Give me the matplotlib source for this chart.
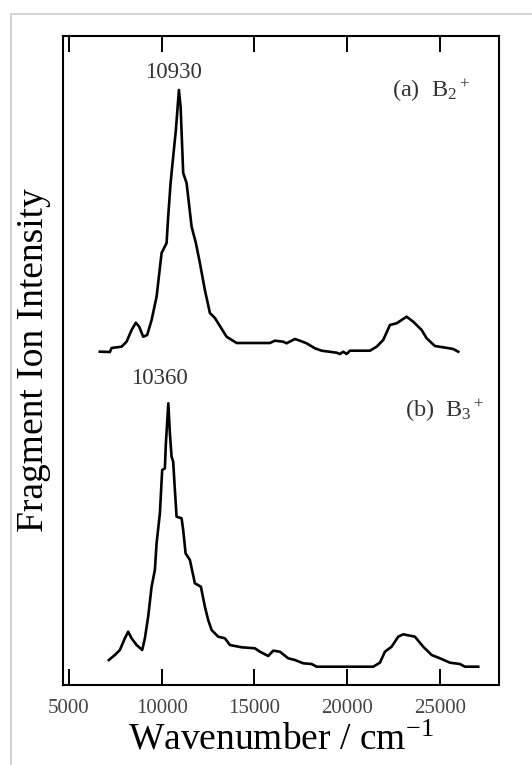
import matplotlib
matplotlib.use("Agg")
import matplotlib.pyplot as plt
from matplotlib.lines import Line2D
import numpy as np

plt.rcParams['font.family'] = ['Liberation Serif', 'DejaVu Serif']
plt.rcParams['mathtext.fontset'] = 'custom'
plt.rcParams['mathtext.rm'] = 'Liberation Serif'
plt.rcParams['mathtext.it'] = 'Liberation Serif:italic'

# (a) B2+ spectrum
wn_a = [6671, 7210, 7302, 7841, 8110, 8380, 8611, 8789, 9005, 9220, 9458, 9727,
        9997, 10266, 10352, 10482, 10622, 10767, 10930, 11021, 11161, 11344,
        11614, 11845, 12061, 12330, 12600, 12869, 13500, 14039, 15834, 16103,
        16551, 16734, 17181, 17451, 17812, 18259, 18620, 19429, 19607, 19785,
        19968, 20146, 21224, 21585, 21941, 22302, 22663, 23202, 23558, 24011,
        24280, 24727, 25175, 25714, 25983]
int_a = [-0.017, -0.02, 0.02, 0.033, 0.083, 0.20, 0.273, 0.233, 0.133, 0.15,
         0.30, 0.533, 0.97, 1.07, 1.333, 1.67, 1.933, 2.20, 2.60, 2.433, 1.77,
         1.67, 1.233, 1.07, 0.87, 0.60, 0.37, 0.32, 0.133, 0.07, 0.07, 0.093,
         0.083, 0.067, 0.11, 0.093, 0.067, 0.017, -0.007, -0.027, -0.04,
         -0.017, -0.04, -0.007, -0.007, 0.033, 0.10, 0.25, 0.267, 0.333, 0.283,
         0.20, 0.117, 0.04, 0.027, 0.01, -0.017]

# (b) B3+ spectrum
wn_b = [7156, 7479, 7749, 8018, 8196, 8380, 8649, 8951, 9096, 9274, 9458, 9635,
        9727, 9905, 10029, 10174, 10228, 10360, 10444, 10535, 10622, 10713,
        10805, 11075, 11161, 11290, 11522, 11791, 12115, 12330, 12508, 12692,
        13047, 13408, 13678, 14308, 15025, 15295, 15742, 16012, 16373, 16820,
        17181, 17629, 18082, 18351, 21402, 21763, 22032, 22394, 22749, 23019,
        23649, 24097, 24549, 24997, 25536, 26075, 26344, 27061]
int_b = [0.07, 0.12, 0.17, 0.287, 0.353, 0.287, 0.22, 0.17, 0.287, 0.503, 0.803,
         0.97, 1.237, 1.537, 1.97, 1.987, 2.237, 2.637, 2.337, 2.103, 2.053,
         1.77, 1.503, 1.487, 1.37, 1.137, 1.07, 0.837, 0.803, 0.603, 0.47, 0.37,
         0.303, 0.287, 0.22, 0.197, 0.187, 0.153, 0.11, 0.163, 0.153, 0.087,
         0.07, 0.037, 0.03, 0.003, 0.003, 0.043, 0.153, 0.203, 0.303, 0.327,
         0.303, 0.203, 0.12, 0.087, 0.043, 0.03, 0.003, 0.003]

offset_a = 3.35
offset_b = 0.18
xticks = [5000, 10000, 15000, 20000, 25000]

fig = plt.figure(figsize=(5.32, 7.65), dpi=100)
ax = fig.add_axes([63.3 / 532, 80 / 765, 435.7 / 532, 649 / 765])

ax.plot(wn_a, np.array(int_a) + offset_a, color='black', lw=1.9)
ax.plot(wn_b, np.array(int_b) + offset_b, color='black', lw=1.9)

ax.set_xlim(4700, 28180)
ax.set_ylim(0, 6.49)
ax.set_xticks(xticks)
ax.set_xticklabels([str(t) for t in xticks])
ax.set_yticks([])
ax.tick_params(axis='x', direction='in', top=True, length=11.5, width=1.4,
               pad=10, labelsize=15, labelcolor='#444444')
for s in ax.spines.values():
    s.set_linewidth(1.5)

ax.set_xlabel(r'Wavenumber / cm$^{-1}$', fontsize=27, labelpad=4)
ax.set_ylabel('Fragment Ion Intensity', fontsize=27, labelpad=9)

ax.text(0.2525, 0.9445, '10930', transform=ax.transAxes, ha='center',
        va='center', fontsize=16.5, color='#333333')
ax.text(0.2196, 0.473, '10360', transform=ax.transAxes, ha='center',
        va='center', fontsize=16.5, color='#333333')
ax.text(0.9334, 0.9065, r'(a)  B$_2\,{}^{+}$', transform=ax.transAxes,
        ha='right', va='baseline', fontsize=17.5, color='#333333')
ax.text(0.9679, 0.4134, r'(b)  B$_3\,{}^{+}$', transform=ax.transAxes,
        ha='right', va='baseline', fontsize=17.5, color='#333333')

# light grey frame of the original scan
fig.add_artist(Line2D([11 / 532, 1], [1 - 14 / 765, 1 - 14 / 765],
                      color='#cccccc', lw=1.2))
fig.add_artist(Line2D([11 / 532, 11 / 532], [0, 1 - 14 / 765],
                      color='#cccccc', lw=1.2))

fig.savefig('out.png', dpi=100)
